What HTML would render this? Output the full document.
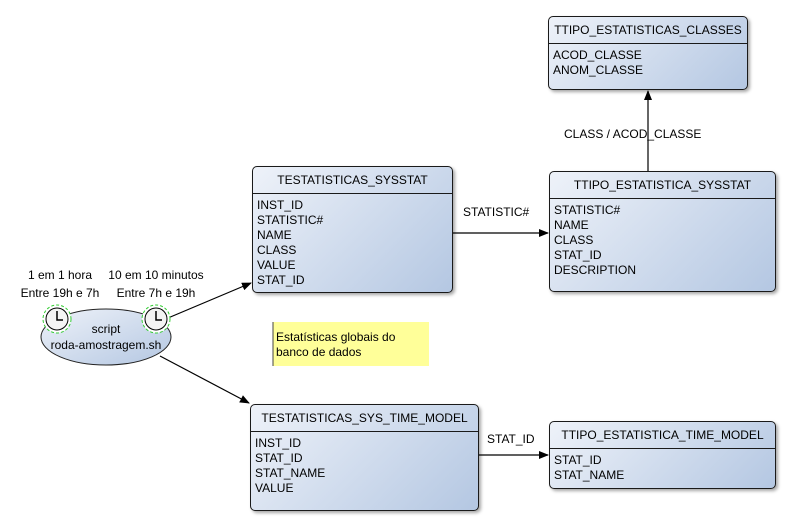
<!DOCTYPE html>
<html><head><meta charset="utf-8"><style>
body{margin:0;width:793px;height:521px;background:#fff;position:relative;font-family:"Liberation Sans",sans-serif;font-size:12px;color:#000;overflow:hidden}
.b{position:absolute;border:1px solid #1a1a1a;border-radius:5px;background:linear-gradient(135deg,#eef2f9 0%,#b4c7e2 100%);box-shadow:2px 2px 3px rgba(0,0,0,.35);box-sizing:border-box}
.h{border-bottom:1px solid #1a1a1a;text-align:center;line-height:26px}
.r{padding:4px 0 0 4px;line-height:15px}
.t{position:absolute;text-align:center;line-height:18px}
</style></head><body>
<svg width="793" height="521" style="position:absolute;left:0;top:0">
<defs><marker id="a" markerWidth="10" markerHeight="8" refX="9" refY="4" orient="auto" markerUnits="userSpaceOnUse"><path d="M0,0L10,4L0,8z" fill="#000"/></marker>
<linearGradient id="g" x1="0" y1="0" x2="1" y2="1"><stop offset="0" stop-color="#eef2f9"/><stop offset="1" stop-color="#b4c7e2"/></linearGradient></defs>
<g stroke="#000" stroke-width="1.2" fill="none">
<line x1="453" y1="233" x2="548" y2="233" marker-end="url(#a)"/>
<line x1="648" y1="171" x2="648" y2="91" marker-end="url(#a)"/>
<line x1="479" y1="455" x2="548" y2="455" marker-end="url(#a)"/>
<line x1="168" y1="318" x2="251" y2="283" marker-end="url(#a)"/>
<line x1="160" y1="356" x2="249" y2="403" marker-end="url(#a)"/>
</g>
<ellipse cx="106" cy="337" rx="65" ry="28" fill="url(#g)" stroke="#222"/>
<g><circle cx="57" cy="319" r="14" fill="#fff" stroke="#3c3" stroke-dasharray="3,2"/><circle cx="57" cy="319" r="11" fill="#f4f4f4" stroke="#000"/><path d="M57,311V320H63" stroke="#000" fill="none" stroke-width="1.5"/>
<circle cx="156" cy="319" r="14" fill="#fff" stroke="#3c3" stroke-dasharray="3,2"/><circle cx="156" cy="319" r="11" fill="#f4f4f4" stroke="#000"/><path d="M156,311V320H162" stroke="#000" fill="none" stroke-width="1.5"/></g>
<path d="M273,322H429V366H281" fill="#ffff99" stroke="none"/>
<rect x="273" y="322" width="156" height="44" fill="#ffff99"/>
<line x1="273" y1="322" x2="273" y2="366" stroke="#444"/>
</svg>
<div class="t" style="left:0;top:266;width:120px;top:266px">1 em 1 hora<br>Entre 19h e 7h</div>
<div class="t" style="left:96px;top:266px;width:120px">10 em 10 minutos<br>Entre 7h e 19h</div>
<div class="t" style="left:41px;top:321px;width:130px;line-height:16px">script<br>roda-amostragem.sh</div>
<div style="position:absolute;left:276px;top:330px;line-height:15px">Estatísticas globais do<br>banco de dados</div>
<div class="t" style="left:463px;top:203px">STATISTIC#</div>
<div class="t" style="left:564px;top:125px">CLASS / ACOD_CLASSE</div>
<div class="t" style="left:487px;top:430px">STAT_ID</div>
<div class="b" style="left:548px;top:16px;width:200px;height:74px"><div class="h">TTIPO_ESTATISTICAS_CLASSES</div><div class="r">ACOD_CLASSE<br>ANOM_CLASSE</div></div>
<div class="b" style="left:252px;top:166px;width:201px;height:127px"><div class="h">TESTATISTICAS_SYSSTAT</div><div class="r">INST_ID<br>STATISTIC#<br>NAME<br>CLASS<br>VALUE<br>STAT_ID</div></div>
<div class="b" style="left:549px;top:171px;width:227px;height:121px"><div class="h">TTIPO_ESTATISTICA_SYSSTAT</div><div class="r">STATISTIC#<br>NAME<br>CLASS<br>STAT_ID<br>DESCRIPTION</div></div>
<div class="b" style="left:250px;top:404px;width:229px;height:107px"><div class="h">TESTATISTICAS_SYS_TIME_MODEL</div><div class="r">INST_ID<br>STAT_ID<br>STAT_NAME<br>VALUE</div></div>
<div class="b" style="left:549px;top:421px;width:227px;height:68px"><div class="h">TTIPO_ESTATISTICA_TIME_MODEL</div><div class="r">STAT_ID<br>STAT_NAME</div></div>
</body></html>
